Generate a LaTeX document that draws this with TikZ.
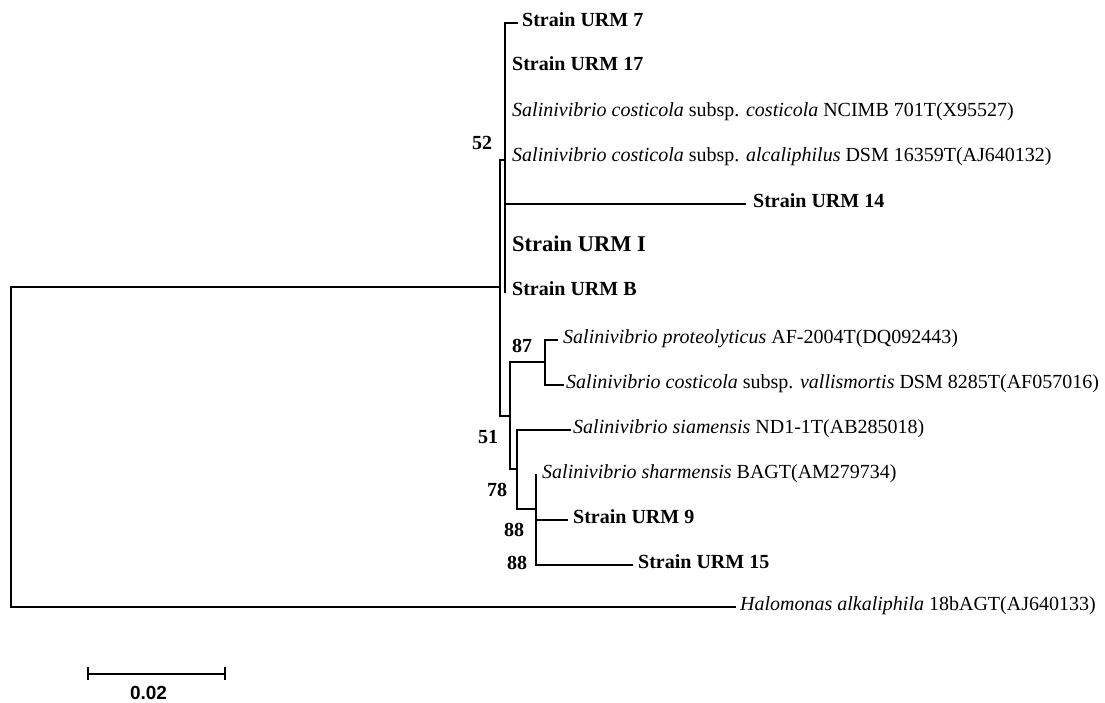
\documentclass[tikz,border=0pt]{standalone}
\usepackage{fontspec}
\setmainfont{Liberation Serif}
\setsansfont{Liberation Sans}
\begin{document}
\begin{tikzpicture}[x=1pt,y=-1pt,
  br/.style={line width=1.3pt, line cap=rect, draw=black},
  leaf/.style={anchor=west, inner ysep=0pt, text height=0.6em, text depth=0pt, font=\fontsize{20}{24}\selectfont},
  sleaf/.style={leaf, font=\fontsize{20}{24}\selectfont\bfseries},
  boot/.style={inner sep=0pt, font=\fontsize{20}{24}\selectfont\bfseries}]
\useasboundingbox (0,0) rectangle (1105,702);
% internal nodes
\coordinate (R) at (11,447);
\coordinate (A) at (500,287);
\coordinate (B) at (505,160);
\coordinate (C) at (510,416);
\coordinate (D) at (545,362);
\coordinate (E) at (517,469);
\coordinate (F) at (536,509);
% leaves
\node[sleaf, inner xsep=5pt] (u7) at (517,23) {Strain URM 7};
\node[sleaf, inner xsep=7pt] (u17) at (505,67) {Strain URM 17};
\node[leaf, inner xsep=7pt] (nc) at (505,113) {\textit{Salinivibrio costicola} subsp. \textit{costicola} NCIMB 701T(X95527)};
\node[leaf, inner xsep=7pt] (dsm) at (505,158) {\textit{Salinivibrio costicola} subsp. \textit{alcaliphilus} DSM 16359T(AJ640132)};
\node[sleaf, inner xsep=8pt] (u14) at (745,204) {Strain URM 14};
\node[leaf, inner xsep=7pt, font=\fontsize{22.5}{26}\selectfont\bfseries] (uI) at (505,248) {Strain URM I};
\node[sleaf, inner xsep=7pt] (uB) at (505,292) {Strain URM B};
\node[leaf, inner xsep=6pt] (pro) at (557,340) {\textit{Salinivibrio proteolyticus} AF-2004T(DQ092443)};
\node[leaf, inner xsep=3pt] (val) at (563,385) {\textit{Salinivibrio costicola} subsp. \textit{vallismortis} DSM 8285T(AF057016)};
\node[leaf, inner xsep=3pt] (sia) at (570,430) {\textit{Salinivibrio siamensis} ND1-1T(AB285018)};
\node[leaf, inner xsep=6pt] (sha) at (536,475) {\textit{Salinivibrio sharmensis} BAGT(AM279734)};
\node[sleaf, inner xsep=6pt] (u9) at (567,520) {Strain URM 9};
\node[sleaf, inner xsep=6pt] (u15) at (632,565) {Strain URM 15};
\node[leaf, inner xsep=5pt] (hal) at (735,607) {\textit{Halomonas alkaliphila} 18bAGT(AJ640133)};
% branches
\draw[br] (R |- A) -- (R |- hal.west);
\draw[br] (R |- A) -- (A);
\draw[br] (R |- hal.west) -- (hal.west);
\draw[br] (A |- B) -- (A |- C);
\draw[br] (A |- B) -- (B);
\draw[br] (A |- C) -- (C);
\draw[br] (B |- u7.west) -- (B |- uB.west);
\draw[br] (B |- u7.west) -- (u7.west);
\draw[br] (B |- u14.west) -- (u14.west);
\draw[br] (C |- D) -- (C |- E);
\draw[br] (C |- D) -- (D);
\draw[br] (C |- E) -- (E);
\draw[br] (D |- pro.west) -- (D |- val.west);
\draw[br] (D |- pro.west) -- (pro.west);
\draw[br] (D |- val.west) -- (val.west);
\draw[br] (E |- sia.west) -- (E |- F);
\draw[br] (E |- sia.west) -- (sia.west);
\draw[br] (E |- F) -- (F);
\draw[br] (F |- sha.west) -- (F |- u15.west);
\draw[br] (F |- u9.west) -- (u9.west);
\draw[br] (F |- u15.west) -- (u15.west);
\draw[br, line width=2.2pt, line cap=butt] (536,520) -- (536,542);
% bootstrap values
\node[boot] (b52) at (482,143) {52};
\node[boot] (b87) at (522,346) {87};
\node[boot] (b51) at (488,437) {51};
\node[boot] (b78) at (497,490) {78};
\node[boot] (b88a) at (514,530) {88};
\node[boot] (b88b) at (517,563) {88};
% scale bar
\coordinate (s1) at (88,674);
\coordinate (s2) at (225,674);
\draw[br, line cap=butt] (s1) -- (s2);
\draw[br, line cap=butt] ([yshift=-6pt]s1) -- ([yshift=7pt]s1);
\draw[br, line cap=butt] ([yshift=-6pt]s2) -- ([yshift=7pt]s2);
\node[inner sep=0pt, font=\sffamily\bfseries\fontsize{19}{22}\selectfont] (sl) at (148.5,692.5) {0.02};
\end{tikzpicture}
\end{document}
